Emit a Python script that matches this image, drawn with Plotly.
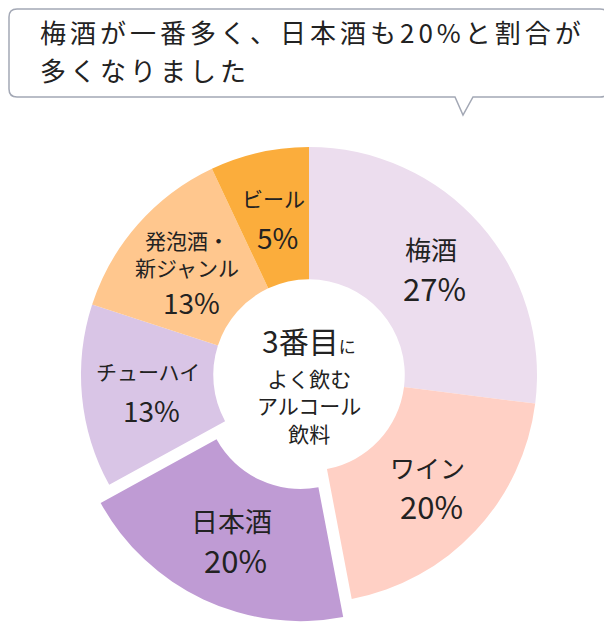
import numpy as np
import plotly.graph_objects as go

# data
drinks     = ['梅酒', 'ワイン', '日本酒', 'チューハイ', '発泡酒・<br>新ジャンル', 'ビール']
shares     = [27, 20, 20, 13, 13, 7]          # slice widths as drawn
pct_labels = ['27%', '20%', '20%', '13%', '13%', '5%']
colors     = ['#ECDDEE', '#FFD0C5', '#BF9BD4', '#D9C5E6', '#FFC78E', '#FBAD3C']
pulls      = [0, 0, 0.088, 0, 0, 0]

headline = ['梅酒が一番多く、日本酒も20%と割合が', '多くなりました']
center_big, center_small = '3番目', 'に'
center_rest = ['よく飲む', 'アルコール', '飲料']

FONT = 'Noto Sans CJK JP'
INK = '#222222'
W, H = 612, 625
OFF = 8                            # page body margin
CX, CY, R = 309, 375, 228          # pie centre / radius in window pixels
name_sizes = [26, 25, 27, 21, 21, 21]
pct_sizes  = [31, 31, 31, 28, 28, 28]


def px(x, y):
    return (x - OFF) / W, 1 - (y - OFF) / H


half = R * (1 + max(pulls))
dom_x = [(CX - OFF - half) / W, (CX - OFF + half) / W]
dom_y = [1 - (CY - OFF + half) / H, 1 - (CY - OFF - half) / H]

fig = go.Figure(go.Pie(
    values=shares,
    labels=[d.replace('<br>', '') for d in drinks],
    sort=False,
    direction='clockwise',
    rotation=0,
    hole=0.42,
    pull=pulls,
    marker=dict(colors=colors, line=dict(width=0)),
    textinfo='none',
    hoverinfo='skip',
    showlegend=False,
    domain=dict(x=dom_x, y=dom_y),
))

# slice labels at the middle of each ring segment
total = sum(shares)
cum = np.cumsum([0] + shares[:-1])
for i, name in enumerate(drinks):
    a = np.radians((cum[i] + shares[i] / 2) / total * 360)
    rr = 162 + pulls[i] * R
    lx, ly = CX + rr * np.sin(a), CY - rr * np.cos(a)
    if '<br>' in name:
        d_name, d_pct = -14, 34
    else:
        d_name, d_pct = -19, 20
    x0, y0 = px(lx, ly + d_name)
    fig.add_annotation(x=x0, y=y0, xref='paper', yref='paper', text=name,
                       showarrow=False, xanchor='center', yanchor='middle',
                       font=dict(family=FONT, size=name_sizes[i], color=INK))
    x1, y1 = px(lx + 4, ly + d_pct)
    fig.add_annotation(x=x1, y=y1, xref='paper', yref='paper', text=pct_labels[i],
                       showarrow=False, xanchor='center', yanchor='middle',
                       font=dict(family=FONT, size=pct_sizes[i], color=INK))

# text in the hole
x, y = px(CX, 340)
fig.add_annotation(x=x, y=y, xref='paper', yref='paper', showarrow=False,
                   text=f'{center_big}<span style="font-size:17px">{center_small}</span>',
                   font=dict(family=FONT, size=30, color=INK))
x, y = px(CX, 405)
fig.add_annotation(x=x, y=y, xref='paper', yref='paper', showarrow=False,
                   text='<br>'.join(center_rest),
                   font=dict(family=FONT, size=21, color=INK))


# speech bubble (kept just inside the drawable area)
def P(x, y):
    u, v = px(x, y)
    return f'{u:.5f},{v:.5f}'


L_, T_, R_, B_ = 9, 9, 608, 97
bubble = (f'M {P(L_ + 8, T_)} L {P(R_ - 8, T_)} Q {P(R_, T_)} {P(R_, T_ + 8)} '
          f'L {P(R_, B_ - 8)} Q {P(R_, B_)} {P(R_ - 8, B_)} L {P(473, B_)} '
          f'L {P(463, 115)} L {P(455, B_)} L {P(L_ + 8, B_)} Q {P(L_, B_)} {P(L_, B_ - 8)} '
          f'L {P(L_, T_ + 8)} Q {P(L_, T_)} {P(L_ + 8, T_)} Z')
fig.add_shape(type='path', path=bubble, xref='paper', yref='paper',
              line=dict(color='#A3A8B5', width=1.5), fillcolor='white')

for line, yc in zip(headline, [32, 69]):
    x, y = px(39, yc)
    fig.add_annotation(x=x, y=y, xref='paper', yref='paper', showarrow=False,
                       xanchor='left', yanchor='middle', borderpad=0,
                       text=f'<span style="letter-spacing:4px">{line}</span>',
                       font=dict(family=FONT, size=26, color=INK))

fig.update_layout(
    width=W, height=H,
    margin=dict(l=0, r=0, t=0, b=0),
    paper_bgcolor='white',
    plot_bgcolor='white',
)

fig.write_html('out.html')
